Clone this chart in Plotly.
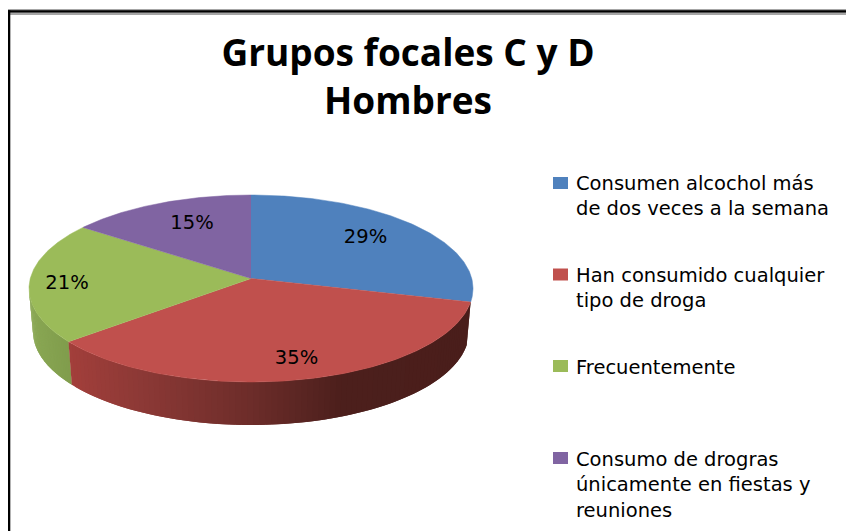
import numpy as np
import plotly.graph_objects as go

# Chart values
categories = [
    "Consumen alcochol más<br>de dos veces a la semana",
    "Han consumido cualquier<br>tipo de droga",
    "Frecuentemente",
    "Consumo de drogras<br>únicamente en fiestas y<br>reuniones",
]
shares = [29, 35, 21, 15]
slice_colors = ["#4F81BD", "#C0504D", "#9BBB59", "#8064A2"]
chart_title = "Grupos focales C y D<br>Hombres"

# Page geometry, in pixels of the 846x531 picture
WIDTH, HEIGHT = 846, 531
CX, CY, RX, RY = 251, 288.5, 222, 93.5
TILT = -0.107  # perspective, pulls the pie centre up to y=278
DEPTH = 43
BASE_RX = 218
LABEL_X = [365.5, 296.5, 67, 192]
LABEL_Y = [238, 359, 284, 224]
LEGEND_Y = [183, 274.5, 366, 458]
LEGEND_TEXT_Y = [183, 275, 367, 459]
FONT = "DejaVu Sans"


def project(theta):
    """Angle on the flat pie (clockwise from 12 o'clock) to unit ellipse coords."""
    u, v = np.cos(theta), np.sin(theta)
    den = 1 + TILT * v
    return u * np.sqrt(1 - TILT ** 2) / den, (v + TILT) / den


def side_color(x, stops):
    xs = [s[0] for s in stops]
    return "rgb({:.0f},{:.0f},{:.0f})".format(
        *[np.interp(x, xs, [s[1][i] for s in stops]) for i in range(3)]
    )


fig = go.Figure()

edges = np.cumsum([0] + shares) / sum(shares) * 2 * np.pi - np.pi / 2

# Side wall: thin strips, so the red one can run from light to dark.
# Each strip runs over the next one so no seams show.
red_stops = [(68, (163, 63, 59)), (150, (138, 56, 53)), (250, (110, 45, 42)),
             (300, (92, 38, 35)), (345, (76, 31, 28)), (473, (74, 30, 27))]
green_stops = [(29, (138, 168, 84)), (70, (128, 156, 76))]
for i, stops in [(2, green_stops), (1, red_stops)]:
    ts = np.linspace(edges[i], edges[i + 1], 90)
    us, vs = project(ts)
    for j in range(len(ts) - 2, -1, -1):
        if vs[j] < 0 and vs[j + 1] < 0:
            continue
        k = max(j - 1, 0)
        top_x = CX + RX * us[k:j + 2]
        top_y = CY + RY * vs[k:j + 2]
        base_x = CX + BASE_RX * us[k:j + 2]
        base_y = CY + DEPTH + RY * vs[k:j + 2]
        color = side_color(top_x.mean(), stops)
        fig.add_trace(go.Scatter(
            x=np.r_[top_x, base_x[::-1]],
            y=np.r_[top_y, base_y[::-1]],
            mode="lines", fill="toself", fillcolor=color,
            line=dict(width=0),
            hoverinfo="skip", showlegend=False,
        ))

# Top face
for i, name in enumerate(categories):
    us, vs = project(np.linspace(edges[i], edges[i + 1], 120))
    fig.add_trace(go.Scatter(
        x=np.r_[CX, CX + RX * us],
        y=np.r_[CY + RY * TILT, CY + RY * vs],
        mode="lines", fill="toself", fillcolor=slice_colors[i],
        line=dict(color=slice_colors[i], width=0.5),
        name=name.replace("<br>", " "), showlegend=False,
    ))

# Percent labels
fig.add_trace(go.Scatter(
    x=LABEL_X, y=LABEL_Y, mode="text",
    text=[f"{s}%" for s in shares],
    textfont=dict(family=FONT, size=19.5, color="#000000"),
    hoverinfo="skip", showlegend=False,
))

# Hand made legend, its entries are evenly spaced but not the line counts
for i, name in enumerate(categories):
    fig.add_shape(type="rect", x0=553, x1=568, y0=LEGEND_Y[i] - 6, y1=LEGEND_Y[i] + 6,
                  fillcolor=slice_colors[i], line_width=0)
    fig.add_annotation(x=574.5, y=LEGEND_TEXT_Y[i] - 12, text=name, xanchor="left", yanchor="top",
                       align="left", showarrow=False, borderpad=0,
                       font=dict(family=FONT, size=19.5, color="#000000"))

# Frame of the pasted picture: left and top only
fig.add_shape(type="rect", x0=8, x1=WIDTH, y0=9, y1=15, fillcolor="#A6A6A6", line_width=0)
fig.add_shape(type="rect", x0=8, x1=WIDTH, y0=10.3, y1=12.4, fillcolor="#000000", line_width=0)
fig.add_shape(type="rect", x0=8, x1=10.3, y0=10.3, y1=HEIGHT, fillcolor="#000000", line_width=0)

fig.update_layout(
    title=dict(text=chart_title, x=408 / WIDTH, xanchor="center", y=1 - 66 / HEIGHT, yanchor="top",
               font=dict(family="Open Sans", size=37, color="#000000", weight="bold")),
    width=WIDTH, height=HEIGHT,
    margin=dict(l=0, r=0, t=0, b=0),
    paper_bgcolor="white", plot_bgcolor="white",
    xaxis=dict(range=[0, WIDTH], visible=False),
    yaxis=dict(range=[HEIGHT, 0], visible=False),
    showlegend=False,
)

fig.write_html("out.html", config=dict(displayModeBar=False),
               post_script="document.body.style.margin='0';")
